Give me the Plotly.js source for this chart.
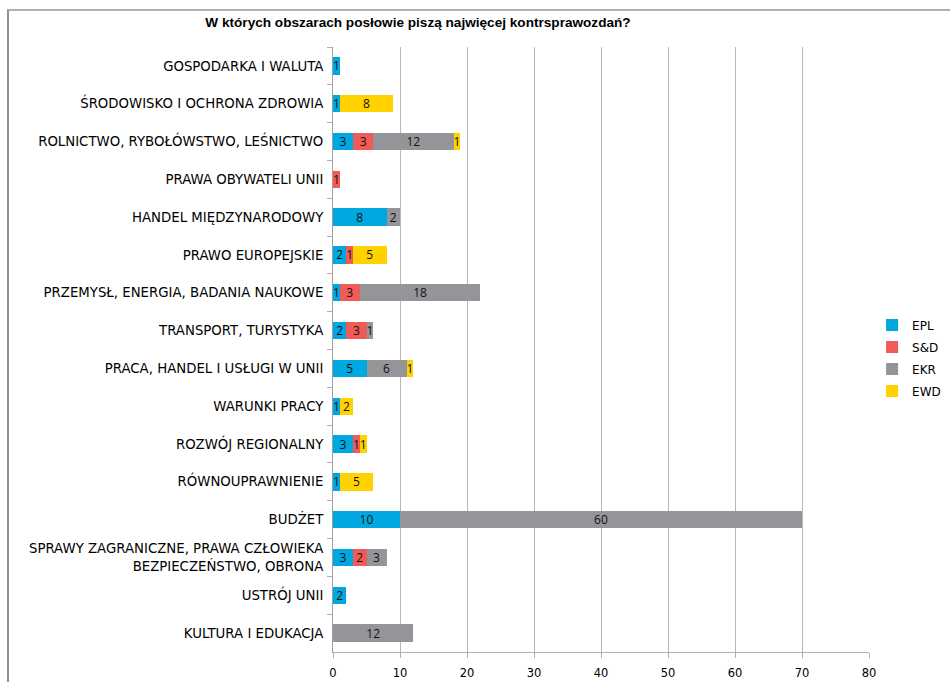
<!DOCTYPE html>
<html>
<head>
<meta charset="utf-8">
<script src="https://cdn.plot.ly/plotly-3.0.1.min.js"></script>
<style>
  html, body { margin: 0; padding: 0; background: #fff; overflow: hidden; }
  #chart { width: 950px; height: 682px; }
  #frame { position: absolute; left: 7px; top: 9px; width: 1000px; height: 800px;
           border-top: 2px solid #b0b0b0; border-left: 2px solid #909090; pointer-events: none; }
</style>
</head>
<body>
<div id="chart"></div>
<div id="frame"></div>
<script>
const categories = [
  "GOSPODARKA I WALUTA",
  "ŚRODOWISKO I OCHRONA ZDROWIA",
  "ROLNICTWO, RYBOŁÓWSTWO, LEŚNICTWO",
  "PRAWA OBYWATELI UNII",
  "HANDEL MIĘDZYNARODOWY",
  "PRAWO EUROPEJSKIE",
  "PRZEMYSŁ, ENERGIA, BADANIA NAUKOWE",
  "TRANSPORT, TURYSTYKA",
  "PRACA, HANDEL I USŁUGI W UNII",
  "WARUNKI PRACY",
  "ROZWÓJ REGIONALNY",
  "RÓWNOUPRAWNIENIE",
  "BUDŻET",
  "SPRAWY ZAGRANICZNE, PRAWA CZŁOWIEKA<br>BEZPIECZEŃSTWO, OBRONA",
  "USTRÓJ UNII",
  "KULTURA I EDUKACJA"
];
const seriesNames = ["EPL", "S&D", "EKR", "EWD"];
const EPL = [1, 1, 3, null, 8, 2, 1, 2, 5, 1, 3, 1, 10, 3, 2, null];
const SD  = [null, null, 3, 1, null, 1, 3, 3, null, null, 1, null, null, 2, null, null];
const EKR = [null, null, 12, null, 2, null, 18, 1, 6, null, null, null, 60, 3, null, 12];
const EWD = [null, 8, 1, null, null, 5, null, null, 1, 2, 1, 5, null, null, null, null];
const xTicks = [0, 10, 20, 30, 40, 50, 60, 70, 80];
const colors = ["#00A8E1", "#F15B57", "#949598", "#FFD200"];

const seriesValues = [EPL, SD, EKR, EWD];
const traces = seriesValues.map((vals, i) => ({
  type: "bar",
  orientation: "h",
  name: seriesNames[i],
  legendgroup: "g" + i,
  y: categories,
  x: vals,
  text: vals.map(v => (v == null ? "" : String(v))),
  textposition: "inside",
  insidetextanchor: "middle",
  textangle: 0,
  constraintext: "none",
  textfont: { family: "Open Sans, DejaVu Sans, sans-serif", size: 12, color: "#111" },
  marker: { color: colors[i], line: { width: 0 } },
  hoverinfo: "x+y+name"
}));

const layout = {
  width: 950,
  height: 682,
  margin: { l: 333, r: 81, t: 47, b: 30, autoexpand: false },
  paper_bgcolor: "#ffffff",
  plot_bgcolor: "#ffffff",
  barmode: "stack",
  bargap: 0.54,
  title: {
    text: "W których obszarach posłowie piszą najwięcej kontrsprawozdań?",
    font: { family: "Liberation Sans, Arial, sans-serif", size: 13.6, color: "#000", weight: "bold" },
    xref: "container", x: 0.44, xanchor: "center",
    yref: "container", y: 0.968, yanchor: "middle"
  },
  xaxis: {
    range: [0, 80],
    tickvals: xTicks,
    ticktext: xTicks.map(String),
    showgrid: true,
    gridcolor: "#b8b8b8",
    gridwidth: 1,
    zeroline: false,
    showline: true,
    linecolor: "#b0b0b0",
    linewidth: 1,
    ticks: "outside",
    ticklen: 5,
    tickcolor: "#b0b0b0",
    ticklabelstandoff: 5,
    tickfont: { family: "DejaVu Sans, Verdana, sans-serif", size: 11.5, color: "#000" },
    fixedrange: true
  },
  yaxis: {
    autorange: "reversed",
    type: "category",
    showgrid: false,
    zeroline: false,
    showline: true,
    linecolor: "#a0a0a0",
    linewidth: 1,
    ticks: "outside",
    tickson: "boundaries",
    ticklen: 5,
    tickcolor: "#b0b0b0",
    ticklabelstandoff: 6,
    tickfont: { family: "DejaVu Sans, Verdana, sans-serif", size: 13.3, color: "#000" },
    fixedrange: true
  },
  legend: {
    xref: "container", yref: "container",
    x: 0.918, xanchor: "left",
    y: 0.475, yanchor: "middle",
    traceorder: "grouped",
    tracegroupgap: 3,
    font: { family: "DejaVu Sans, Verdana, sans-serif", size: 12, color: "#000" },
    itemwidth: 30,
    bgcolor: "rgba(0,0,0,0)"
  },
  showlegend: true
};

Plotly.newPlot("chart", traces, layout, { displayModeBar: false, staticPlot: true });
</script>
</body>
</html>
